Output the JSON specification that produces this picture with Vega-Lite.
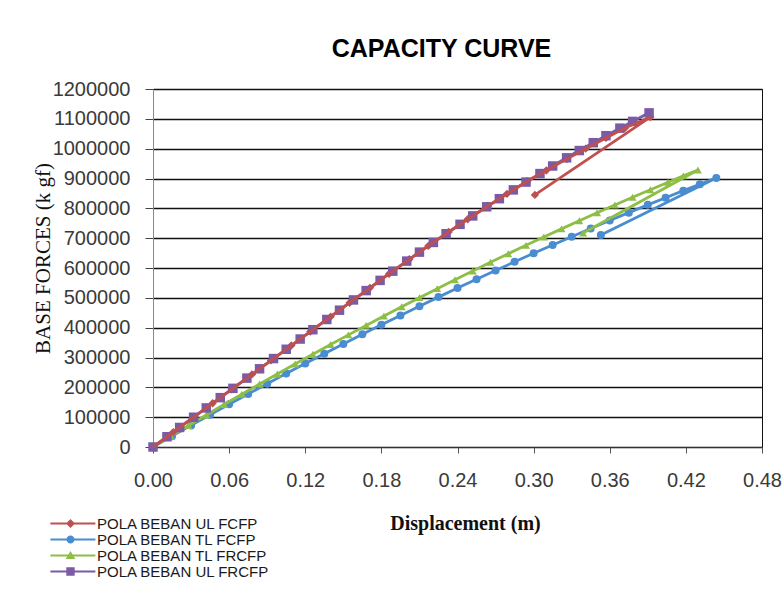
{
  "$schema": "https://vega.github.io/schema/vega-lite/v6.json",
  "autosize": {"type": "none"},
  "padding": {"left": 153, "top": 89, "right": 21, "bottom": 147},
  "width": 609,
  "height": 358,
  "background": "white",
  "title": {
    "text": "CAPACITY CURVE",
    "font": "Liberation Sans",
    "fontSize": 25,
    "fontWeight": "bold",
    "color": "#000000",
    "anchor": "middle",
    "frame": "group",
    "dx": -16,
    "baseline": "alphabetic",
    "offset": -3
  },
  "config": {
    "view": {"stroke": "#111111", "strokeWidth": 1},
    "axis": {
      "labelFont": "Liberation Sans",
      "labelFontSize": 20,
      "labelColor": "#3a3a3a",
      "titleFont": "Liberation Serif",
      "titleFontSize": 20,
      "titleFontWeight": "bold",
      "titleColor": "#111111"
    }
  },
  "data": {
    "values": [
      {"s": "POLA BEBAN UL FRCFP", "i": 0, "x": 0.0, "y": 0},
      {"s": "POLA BEBAN UL FRCFP", "i": 1, "x": 0.011, "y": 34300},
      {"s": "POLA BEBAN UL FRCFP", "i": 2, "x": 0.021, "y": 65500},
      {"s": "POLA BEBAN UL FRCFP", "i": 3, "x": 0.032, "y": 99800},
      {"s": "POLA BEBAN UL FRCFP", "i": 4, "x": 0.042, "y": 131000},
      {"s": "POLA BEBAN UL FRCFP", "i": 5, "x": 0.053, "y": 165400},
      {"s": "POLA BEBAN UL FRCFP", "i": 6, "x": 0.063, "y": 196600},
      {"s": "POLA BEBAN UL FRCFP", "i": 7, "x": 0.074, "y": 230900},
      {"s": "POLA BEBAN UL FRCFP", "i": 8, "x": 0.084, "y": 262100},
      {"s": "POLA BEBAN UL FRCFP", "i": 9, "x": 0.095, "y": 296400},
      {"s": "POLA BEBAN UL FRCFP", "i": 10, "x": 0.105, "y": 327600},
      {"s": "POLA BEBAN UL FRCFP", "i": 11, "x": 0.116, "y": 361900},
      {"s": "POLA BEBAN UL FRCFP", "i": 12, "x": 0.126, "y": 393100},
      {"s": "POLA BEBAN UL FRCFP", "i": 13, "x": 0.137, "y": 427400},
      {"s": "POLA BEBAN UL FRCFP", "i": 14, "x": 0.147, "y": 458600},
      {"s": "POLA BEBAN UL FRCFP", "i": 15, "x": 0.158, "y": 493000},
      {"s": "POLA BEBAN UL FRCFP", "i": 16, "x": 0.168, "y": 524200},
      {"s": "POLA BEBAN UL FRCFP", "i": 17, "x": 0.179, "y": 558500},
      {"s": "POLA BEBAN UL FRCFP", "i": 18, "x": 0.189, "y": 589500},
      {"s": "POLA BEBAN UL FRCFP", "i": 19, "x": 0.200, "y": 623100},
      {"s": "POLA BEBAN UL FRCFP", "i": 20, "x": 0.210, "y": 653200},
      {"s": "POLA BEBAN UL FRCFP", "i": 21, "x": 0.221, "y": 685700},
      {"s": "POLA BEBAN UL FRCFP", "i": 22, "x": 0.231, "y": 714900},
      {"s": "POLA BEBAN UL FRCFP", "i": 23, "x": 0.242, "y": 746400},
      {"s": "POLA BEBAN UL FRCFP", "i": 24, "x": 0.252, "y": 774600},
      {"s": "POLA BEBAN UL FRCFP", "i": 25, "x": 0.263, "y": 805100},
      {"s": "POLA BEBAN UL FRCFP", "i": 26, "x": 0.273, "y": 832300},
      {"s": "POLA BEBAN UL FRCFP", "i": 27, "x": 0.284, "y": 861800},
      {"s": "POLA BEBAN UL FRCFP", "i": 28, "x": 0.294, "y": 888100},
      {"s": "POLA BEBAN UL FRCFP", "i": 29, "x": 0.305, "y": 916500},
      {"s": "POLA BEBAN UL FRCFP", "i": 30, "x": 0.315, "y": 941900},
      {"s": "POLA BEBAN UL FRCFP", "i": 31, "x": 0.326, "y": 969300},
      {"s": "POLA BEBAN UL FRCFP", "i": 32, "x": 0.336, "y": 993700},
      {"s": "POLA BEBAN UL FRCFP", "i": 33, "x": 0.347, "y": 1020000},
      {"s": "POLA BEBAN UL FRCFP", "i": 34, "x": 0.357, "y": 1043500},
      {"s": "POLA BEBAN UL FRCFP", "i": 35, "x": 0.368, "y": 1068800},
      {"s": "POLA BEBAN UL FRCFP", "i": 36, "x": 0.378, "y": 1091400},
      {"s": "POLA BEBAN UL FRCFP", "i": 37, "x": 0.391, "y": 1120000},

      {"s": "POLA BEBAN UL FCFP", "i": 0, "x": 0.0, "y": 0},
      {"s": "POLA BEBAN UL FCFP", "i": 1, "x": 0.016, "y": 49900},
      {"s": "POLA BEBAN UL FCFP", "i": 2, "x": 0.031, "y": 96700},
      {"s": "POLA BEBAN UL FCFP", "i": 3, "x": 0.047, "y": 146600},
      {"s": "POLA BEBAN UL FCFP", "i": 4, "x": 0.062, "y": 193400},
      {"s": "POLA BEBAN UL FCFP", "i": 5, "x": 0.078, "y": 243400},
      {"s": "POLA BEBAN UL FCFP", "i": 6, "x": 0.093, "y": 290200},
      {"s": "POLA BEBAN UL FCFP", "i": 7, "x": 0.109, "y": 340100},
      {"s": "POLA BEBAN UL FCFP", "i": 8, "x": 0.124, "y": 386900},
      {"s": "POLA BEBAN UL FCFP", "i": 9, "x": 0.140, "y": 436800},
      {"s": "POLA BEBAN UL FCFP", "i": 10, "x": 0.155, "y": 483600},
      {"s": "POLA BEBAN UL FCFP", "i": 11, "x": 0.171, "y": 533500},
      {"s": "POLA BEBAN UL FCFP", "i": 12, "x": 0.186, "y": 580200},
      {"s": "POLA BEBAN UL FCFP", "i": 13, "x": 0.202, "y": 629200},
      {"s": "POLA BEBAN UL FCFP", "i": 14, "x": 0.217, "y": 674000},
      {"s": "POLA BEBAN UL FCFP", "i": 15, "x": 0.233, "y": 720700},
      {"s": "POLA BEBAN UL FCFP", "i": 16, "x": 0.248, "y": 763400},
      {"s": "POLA BEBAN UL FCFP", "i": 17, "x": 0.264, "y": 807800},
      {"s": "POLA BEBAN UL FCFP", "i": 18, "x": 0.279, "y": 848500},
      {"s": "POLA BEBAN UL FCFP", "i": 19, "x": 0.295, "y": 890700},
      {"s": "POLA BEBAN UL FCFP", "i": 20, "x": 0.310, "y": 927000},
      {"s": "POLA BEBAN UL FCFP", "i": 21, "x": 0.326, "y": 965000},
      {"s": "POLA BEBAN UL FCFP", "i": 22, "x": 0.341, "y": 1000000},
      {"s": "POLA BEBAN UL FCFP", "i": 23, "x": 0.357, "y": 1036000},
      {"s": "POLA BEBAN UL FCFP", "i": 24, "x": 0.372, "y": 1069000},
      {"s": "POLA BEBAN UL FCFP", "i": 25, "x": 0.392, "y": 1106000},
      {"s": "POLA BEBAN UL FCFP", "i": 26, "x": 0.301, "y": 845000},

      {"s": "POLA BEBAN TL FCFP", "i": 0, "x": 0.0, "y": 0},
      {"s": "POLA BEBAN TL FCFP", "i": 1, "x": 0.015, "y": 36400},
      {"s": "POLA BEBAN TL FCFP", "i": 2, "x": 0.030, "y": 72400},
      {"s": "POLA BEBAN TL FCFP", "i": 3, "x": 0.045, "y": 107900},
      {"s": "POLA BEBAN TL FCFP", "i": 4, "x": 0.060, "y": 143100},
      {"s": "POLA BEBAN TL FCFP", "i": 5, "x": 0.075, "y": 177800},
      {"s": "POLA BEBAN TL FCFP", "i": 6, "x": 0.090, "y": 212100},
      {"s": "POLA BEBAN TL FCFP", "i": 7, "x": 0.105, "y": 246100},
      {"s": "POLA BEBAN TL FCFP", "i": 8, "x": 0.120, "y": 279600},
      {"s": "POLA BEBAN TL FCFP", "i": 9, "x": 0.135, "y": 312600},
      {"s": "POLA BEBAN TL FCFP", "i": 10, "x": 0.150, "y": 345300},
      {"s": "POLA BEBAN TL FCFP", "i": 11, "x": 0.165, "y": 377600},
      {"s": "POLA BEBAN TL FCFP", "i": 12, "x": 0.180, "y": 409400},
      {"s": "POLA BEBAN TL FCFP", "i": 13, "x": 0.195, "y": 440800},
      {"s": "POLA BEBAN TL FCFP", "i": 14, "x": 0.210, "y": 471800},
      {"s": "POLA BEBAN TL FCFP", "i": 15, "x": 0.225, "y": 502400},
      {"s": "POLA BEBAN TL FCFP", "i": 16, "x": 0.240, "y": 532600},
      {"s": "POLA BEBAN TL FCFP", "i": 17, "x": 0.255, "y": 562400},
      {"s": "POLA BEBAN TL FCFP", "i": 18, "x": 0.270, "y": 591700},
      {"s": "POLA BEBAN TL FCFP", "i": 19, "x": 0.285, "y": 620700},
      {"s": "POLA BEBAN TL FCFP", "i": 20, "x": 0.300, "y": 649200},
      {"s": "POLA BEBAN TL FCFP", "i": 21, "x": 0.315, "y": 677300},
      {"s": "POLA BEBAN TL FCFP", "i": 22, "x": 0.330, "y": 705000},
      {"s": "POLA BEBAN TL FCFP", "i": 23, "x": 0.345, "y": 732300},
      {"s": "POLA BEBAN TL FCFP", "i": 24, "x": 0.360, "y": 759200},
      {"s": "POLA BEBAN TL FCFP", "i": 25, "x": 0.375, "y": 785600},
      {"s": "POLA BEBAN TL FCFP", "i": 26, "x": 0.390, "y": 811700},
      {"s": "POLA BEBAN TL FCFP", "i": 27, "x": 0.404, "y": 835600},
      {"s": "POLA BEBAN TL FCFP", "i": 28, "x": 0.418, "y": 859200},
      {"s": "POLA BEBAN TL FCFP", "i": 29, "x": 0.431, "y": 880700},
      {"s": "POLA BEBAN TL FCFP", "i": 30, "x": 0.444, "y": 902000},
      {"s": "POLA BEBAN TL FCFP", "i": 31, "x": 0.353, "y": 711000},

      {"s": "POLA BEBAN TL FRCFP", "i": 0, "x": 0.0, "y": 0},
      {"s": "POLA BEBAN TL FRCFP", "i": 1, "x": 0.014, "y": 36100},
      {"s": "POLA BEBAN TL FRCFP", "i": 2, "x": 0.028, "y": 71900},
      {"s": "POLA BEBAN TL FRCFP", "i": 3, "x": 0.042, "y": 107300},
      {"s": "POLA BEBAN TL FRCFP", "i": 4, "x": 0.056, "y": 142200},
      {"s": "POLA BEBAN TL FRCFP", "i": 5, "x": 0.070, "y": 176800},
      {"s": "POLA BEBAN TL FRCFP", "i": 6, "x": 0.084, "y": 210900},
      {"s": "POLA BEBAN TL FRCFP", "i": 7, "x": 0.098, "y": 244700},
      {"s": "POLA BEBAN TL FRCFP", "i": 8, "x": 0.112, "y": 278100},
      {"s": "POLA BEBAN TL FRCFP", "i": 9, "x": 0.126, "y": 311100},
      {"s": "POLA BEBAN TL FRCFP", "i": 10, "x": 0.140, "y": 343600},
      {"s": "POLA BEBAN TL FRCFP", "i": 11, "x": 0.154, "y": 375800},
      {"s": "POLA BEBAN TL FRCFP", "i": 12, "x": 0.168, "y": 407600},
      {"s": "POLA BEBAN TL FRCFP", "i": 13, "x": 0.182, "y": 439000},
      {"s": "POLA BEBAN TL FRCFP", "i": 14, "x": 0.196, "y": 470000},
      {"s": "POLA BEBAN TL FRCFP", "i": 15, "x": 0.210, "y": 500600},
      {"s": "POLA BEBAN TL FRCFP", "i": 16, "x": 0.224, "y": 530800},
      {"s": "POLA BEBAN TL FRCFP", "i": 17, "x": 0.238, "y": 560600},
      {"s": "POLA BEBAN TL FRCFP", "i": 18, "x": 0.252, "y": 590100},
      {"s": "POLA BEBAN TL FRCFP", "i": 19, "x": 0.266, "y": 619100},
      {"s": "POLA BEBAN TL FRCFP", "i": 20, "x": 0.280, "y": 647700},
      {"s": "POLA BEBAN TL FRCFP", "i": 21, "x": 0.294, "y": 675900},
      {"s": "POLA BEBAN TL FRCFP", "i": 22, "x": 0.308, "y": 703800},
      {"s": "POLA BEBAN TL FRCFP", "i": 23, "x": 0.322, "y": 731200},
      {"s": "POLA BEBAN TL FRCFP", "i": 24, "x": 0.336, "y": 758200},
      {"s": "POLA BEBAN TL FRCFP", "i": 25, "x": 0.350, "y": 784900},
      {"s": "POLA BEBAN TL FRCFP", "i": 26, "x": 0.364, "y": 811100},
      {"s": "POLA BEBAN TL FRCFP", "i": 27, "x": 0.378, "y": 837000},
      {"s": "POLA BEBAN TL FRCFP", "i": 28, "x": 0.392, "y": 862400},
      {"s": "POLA BEBAN TL FRCFP", "i": 29, "x": 0.406, "y": 887500},
      {"s": "POLA BEBAN TL FRCFP", "i": 30, "x": 0.418, "y": 908700},
      {"s": "POLA BEBAN TL FRCFP", "i": 31, "x": 0.4295, "y": 928700},
      {"s": "POLA BEBAN TL FRCFP", "i": 32, "x": 0.339, "y": 717000}
    ]
  },
  "encoding": {
    "x": {
      "field": "x",
      "type": "quantitative",
      "scale": {"domain": [0, 0.48], "nice": false, "zero": false},
      "axis": {
        "title": "Displacement (m)",
        "values": [0, 0.06, 0.12, 0.18, 0.24, 0.3, 0.36, 0.42, 0.48],
        "format": ".2f",
        "grid": false,
        "domainColor": "#333333",
        "domainWidth": 1.2,
        "tickColor": "#555555",
        "tickSize": 6,
        "labelPadding": 17,
        "labelFlush": false,
        "titleX": 312,
        "titleY": 76,
        "titleBaseline": "middle",
        "titleAlign": "center"
      }
    },
    "y": {
      "field": "y",
      "type": "quantitative",
      "scale": {"domain": [0, 1200000], "nice": false},
      "axis": {
        "title": "BASE FORCES (k gf)",
        "values": [0, 100000, 200000, 300000, 400000, 500000, 600000, 700000, 800000, 900000, 1000000, 1100000, 1200000],
        "format": "d",
        "grid": true,
        "gridColor": "#111111",
        "gridWidth": 1.3,
        "domainColor": "#8a8a8a",
        "tickColor": "#444444",
        "tickSize": 8,
        "labelPadding": 15,
        "labelFlush": false,
        "titleX": -110,
        "titleY": 169,
        "titleAngle": 270,
        "titleBaseline": "middle",
        "titleAlign": "center",
        "titleFontWeight": "normal",
        "titleFontSize": 21
      }
    },
    "order": {"field": "i", "type": "quantitative"}
  },
  "layer": [
    {
      "transform": [{"filter": "datum.s === 'POLA BEBAN TL FCFP'"}],
      "layer": [
        {"mark": {"type": "line", "strokeWidth": 2.8, "color": "#4A8CD0"}, "encoding": {}},
        {"mark": {"type": "point", "shape": "circle", "filled": true, "size": 64, "opacity": 1, "color": "#4A8CD0"}, "encoding": {}}
      ]
    },
    {
      "transform": [{"filter": "datum.s === 'POLA BEBAN TL FRCFP'"}],
      "layer": [
        {"mark": {"type": "line", "strokeWidth": 2.8, "color": "#8DBE45"}, "encoding": {}},
        {"mark": {"type": "point", "shape": "triangle-up", "filled": true, "size": 64, "opacity": 1, "color": "#8DBE45"}, "encoding": {}}
      ]
    },
    {
      "transform": [{"filter": "datum.s === 'POLA BEBAN UL FCFP'"}],
      "mark": {"type": "point", "shape": "diamond", "filled": true, "size": 70, "opacity": 1, "color": "#C0504D"},
      "encoding": {}
    },
    {
      "transform": [{"filter": "datum.s === 'POLA BEBAN UL FRCFP'"}],
      "layer": [
        {"mark": {"type": "line", "strokeWidth": 2.8, "color": "#7B5AA6"}, "encoding": {}},
        {"mark": {"type": "point", "shape": "square", "filled": true, "size": 90, "opacity": 1, "color": "#7B5AA6"}, "encoding": {}}
      ]
    },
    {
      "transform": [{"filter": "datum.s === 'POLA BEBAN UL FCFP'"}],
      "mark": {"type": "line", "strokeWidth": 2.8, "color": "#C0504D"},
      "encoding": {}
    },
    {
      "mark": {"type": "point", "filled": true, "size": 0, "opacity": 1},
      "encoding": {
        "color": {
          "field": "s",
          "type": "nominal",
          "scale": {
            "domain": ["POLA BEBAN UL FCFP", "POLA BEBAN TL FCFP", "POLA BEBAN TL FRCFP", "POLA BEBAN UL FRCFP"],
            "range": ["#C0504D", "#4A8CD0", "#8DBE45", "#7B5AA6"]
          },
          "legend": {
            "orient": "none",
            "legendX": -90,
            "legendY": 427,
            "title": null,
            "padding": 0,
            "rowPadding": 0,
            "symbolSize": 36,
            "symbolOpacity": 1,
            "symbolStrokeWidth": 0,
            "labelOffset": 19,
            "labelLimit": 400,
            "labelFont": "Liberation Sans",
            "labelFontSize": 15,
            "labelColor": "#1a1a1a"
          }
        },
        "shape": {
          "field": "s",
          "type": "nominal",
          "scale": {
            "domain": ["POLA BEBAN UL FCFP", "POLA BEBAN TL FCFP", "POLA BEBAN TL FRCFP", "POLA BEBAN UL FRCFP"],
            "range": [
              "M-6.7,-0.3H8.3V0.3H-6.7Z M0,-1.5L1.5,0L0,1.5L-1.5,0Z",
              "M-6.7,-0.3H8.3V0.3H-6.7Z M-1.35,0A1.35,1.35,0,1,1,1.35,0A1.35,1.35,0,1,1,-1.35,0Z",
              "M-6.7,-0.3H8.3V0.3H-6.7Z M0,-1.5L1.6,1.2L-1.6,1.2Z",
              "M-6.7,-0.3H8.3V0.3H-6.7Z M-1.4,-1.4H1.4V1.4H-1.4Z"
            ]
          },
          "legend": {
            "orient": "none",
            "legendX": -90,
            "legendY": 427,
            "title": null,
            "padding": 0,
            "rowPadding": 0,
            "symbolSize": 36,
            "symbolOpacity": 1,
            "symbolStrokeWidth": 0,
            "labelOffset": 19,
            "labelLimit": 400,
            "labelFont": "Liberation Sans",
            "labelFontSize": 15,
            "labelColor": "#1a1a1a"
          }
        }
      }
    }
  ]
}
